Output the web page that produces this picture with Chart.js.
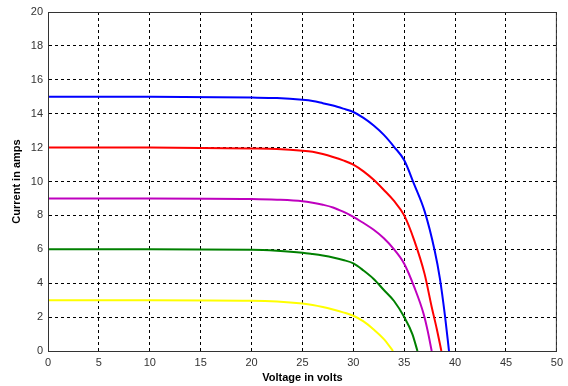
<!DOCTYPE html>
<html>
<head>
<meta charset="utf-8">
<script src="https://cdn.jsdelivr.net/npm/chart.js@4/dist/chart.umd.min.js"></script>
<style>
  html, body { margin: 0; padding: 0; background: #fff; }
  #wrap { width: 568px; height: 386px; }
</style>
</head>
<body>
<div id="wrap"><canvas id="ivChart" width="568" height="386"></canvas></div>
<script>
// I-V curves (voltage in V, current in A)
const blueV    = [0, 10, 20, 22.5, 25, 26, 27, 28, 29, 30, 31, 32, 33, 34, 35, 36, 37, 38, 38.5, 39, 39.4];
const blueI    = [15, 15, 14.95, 14.92, 14.82, 14.75, 14.62, 14.48, 14.3, 14.1, 13.75, 13.3, 12.75, 12.05, 11.25, 9.8, 8.25, 5.9, 4.3, 2.1, 0];
const redV     = [0, 10, 20, 22.5, 25, 26, 27, 28, 29, 30, 31, 32, 33, 34, 35, 36, 37, 37.7, 38.2, 38.65];
const redI     = [12, 12, 11.95, 11.92, 11.82, 11.75, 11.62, 11.45, 11.25, 11.0, 10.6, 10.1, 9.5, 8.85, 8.0, 6.5, 4.55, 2.6, 1.3, 0];
const magentaV = [0, 10, 20, 22.5, 25, 26, 27, 28, 29, 30, 31, 32, 33, 34, 35, 36, 36.9, 37.3, 37.7];
const magentaI = [9, 9, 8.97, 8.93, 8.84, 8.75, 8.63, 8.47, 8.22, 7.92, 7.55, 7.15, 6.65, 6.0, 5.15, 3.75, 2.2, 1.2, 0];
const greenV   = [0, 10, 20, 22.5, 25, 26, 27, 28, 29, 30, 31, 32, 33, 34, 35, 35.8, 36.3];
const greenI   = [6, 6, 5.98, 5.92, 5.8, 5.72, 5.63, 5.52, 5.37, 5.17, 4.75, 4.25, 3.6, 2.95, 2.0, 1.0, 0];
const yellowV  = [0, 10, 20, 22.5, 25, 26, 27, 28, 29, 30, 31, 32, 33, 33.9];
const yellowI  = [3, 3, 2.97, 2.92, 2.8, 2.72, 2.6, 2.45, 2.28, 2.08, 1.75, 1.27, 0.7, 0];

const xTicks = [0, 5, 10, 15, 20, 25, 30, 35, 40, 45, 50];
const yTicks = [0, 2, 4, 6, 8, 10, 12, 14, 16, 18, 20];

function toPoints(vs, is) {
  return vs.map((v, i) => ({ x: v, y: is[i] }));
}

function curve(vs, is, color) {
  return {
    data: toPoints(vs, is),
    borderColor: color,
    borderWidth: 2,
    pointRadius: 0,
    cubicInterpolationMode: 'monotone',
    fill: false
  };
}

// 枠線（上・右も描く）
const framePlugin = {
  id: 'frame',
  afterDatasetsDraw(chart) {
    const a = chart.chartArea;
    const ctx = chart.ctx;
    ctx.save();
    ctx.strokeStyle = '#333';
    ctx.lineWidth = 1;
    ctx.strokeRect(a.left + 0.5, a.top + 0.5, a.right - a.left - 1, a.bottom - a.top);
    ctx.restore();
  }
};

const tickFont = { family: 'Liberation Sans, Arial, sans-serif', size: 11 };
const titleFont = { family: 'Liberation Sans, Arial, sans-serif', size: 11, weight: 'bold' };

new Chart(document.getElementById('ivChart'), {
  type: 'line',
  data: {
    datasets: [
      curve(blueV, blueI, '#0000FF'),
      curve(redV, redI, '#FF0000'),
      curve(magentaV, magentaI, '#BF00BF'),
      curve(greenV, greenI, '#008000'),
      curve(yellowV, yellowI, '#FFFF00')
    ]
  },
  options: {
    responsive: false,
    animation: false,
    layout: { padding: { top: 12, right: 6, left: 0, bottom: 0 } },
    plugins: { legend: { display: false }, tooltip: { enabled: false } },
    scales: {
      x: {
        type: 'linear',
        min: 0,
        max: 50,
        afterBuildTicks: s => { s.ticks = xTicks.map(v => ({ value: v })); },
        afterFit: s => { s.height = 35; },
        grid: { color: '#000', lineWidth: 1, drawTicks: false },
        border: { display: true, color: '#333', dash: [3, 3] },
        ticks: { color: '#333', font: tickFont, padding: 5, maxRotation: 0 },
        title: { display: true, text: 'Voltage in volts', color: '#000', font: titleFont, padding: { top: 0, bottom: 1 } }
      },
      y: {
        type: 'linear',
        min: 0,
        max: 20,
        afterBuildTicks: s => { s.ticks = yTicks.map(v => ({ value: v })); },
        afterFit: s => { s.width = 48; },
        grid: { color: '#000', lineWidth: 1, drawTicks: false },
        border: { display: true, color: '#333', dash: [3, 3] },
        ticks: { color: '#333', font: tickFont, padding: 5 },
        title: { display: true, text: 'Current in amps', color: '#000', font: titleFont, padding: { top: 10, bottom: 0 } }
      }
    }
  },
  plugins: [framePlugin]
});
</script>
</body>
</html>
